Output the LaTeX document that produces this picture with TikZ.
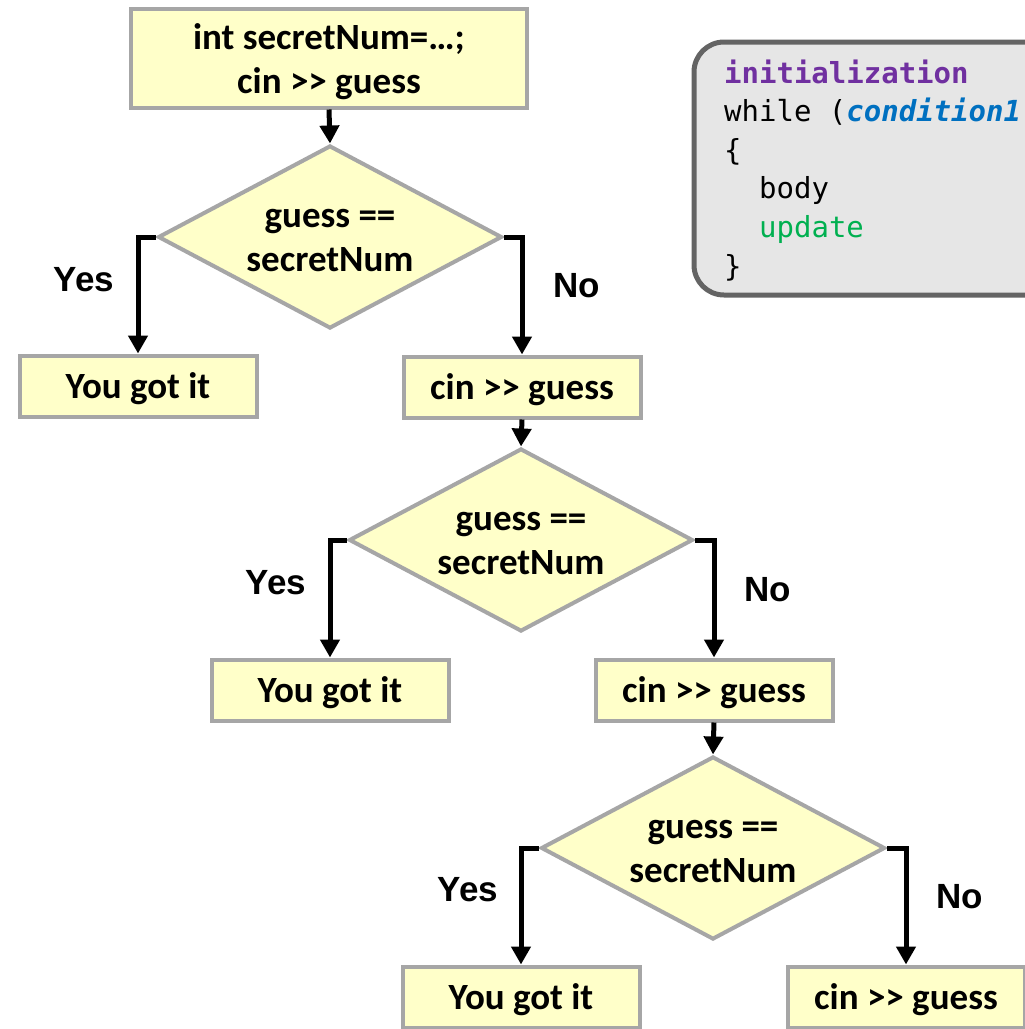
\documentclass[tikz,border=0pt]{standalone}
\usepackage{fontspec}
\setmainfont{Carlito}
\newfontfamily\codefont{DejaVu Sans Mono}
\newfontfamily\labelfont{Liberation Sans}
\usetikzlibrary{shapes.geometric,arrows.meta}

\definecolor{boxfill}{HTML}{FFFFC9}
\definecolor{boxline}{HTML}{A6A6A6}
\definecolor{codefill}{HTML}{E6E6E6}
\definecolor{codeframe}{HTML}{646464}
\definecolor{kwpurple}{HTML}{7030A0}
\definecolor{condblue}{HTML}{0070C0}
\definecolor{updgreen}{HTML}{00B050}

% ">>" without the TeX ligature turning it into a guillemet
\newcommand\readop{>{}>}
% sink node text a little without changing the box it occupies
\newcommand\sunk[2][4pt]{\raisebox{-#1}[\height][\depth]{#2}}
\newcommand\twolines[2]{\begin{tabular}{@{}c@{}}#1\\#2\end{tabular}}

\begin{document}
\begin{tikzpicture}[x=1pt,y=-1pt,
  stepbox/.style={draw=boxline,fill=boxfill,line width=4pt,minimum width=237pt,
    minimum height=61pt,inner sep=0pt,
    font=\fontsize{37}{44}\selectfont\bfseries},
  decision/.style={diamond,draw=boxline,fill=boxfill,line width=4pt,
    minimum width=344pt,minimum height=183pt,inner sep=0pt,aspect=1.87,
    font=\fontsize{37}{44}\selectfont\bfseries},
  flow/.style={line width=5pt,-{Triangle[width=19pt,length=18pt]}},
  answer/.style={inner sep=0pt,font=\fontsize{35}{40}\labelfont\bfseries},
  codetext/.style={anchor=base west,inner sep=0pt,font=\fontsize{29}{38}\codefont}]

\useasboundingbox (0,0) rectangle (1025,1029);
\clip (0,0) rectangle (1025,1029);

% code summary panel
\draw[draw=codeframe,fill=codefill,line width=5pt,rounded corners=30pt]
  (694,42) rectangle (1090,295);
\node[codetext] (c1) at (724,83)    {\textcolor{kwpurple}{\bfseries initialization}};
\node[codetext] (c2) at (724,121.6) {while (\textcolor{condblue}{\bfseries\itshape condition1}};
\node[codetext] (c3) at (724,160.2) {\{};
\node[codetext] (c4) at (759,198.8) {body};
\node[codetext] (c5) at (759,237.4) {\textcolor{updgreen}{update}};
\node[codetext] (c6) at (724,276)   {\}};

% flowchart nodes
\node[stepbox,minimum width=396pt,minimum height=99pt] (init) at (329,58)
  {\sunk[5pt]{\twolines{int secretNum=…;}{cin \readop{} guess}}};

\node[decision] (d1) at (330,237) {\sunk{\twolines{guess ==}{secretNum}}};
\node[stepbox] (y1) at (138,386) {\sunk[3pt]{You got it}};
\node[stepbox] (n1) at (522,387) {\sunk[3pt]{cin \readop{} guess}};

\node[decision] (d2) at (521,540) {\sunk{\twolines{guess ==}{secretNum}}};
\node[stepbox] (y2) at (330,690) {\sunk[3pt]{You got it}};
\node[stepbox] (n2) at (714,690) {\sunk[3pt]{cin \readop{} guess}};

\node[decision] (d3) at (713,848) {\sunk{\twolines{guess ==}{secretNum}}};
\node[stepbox] (y3) at (521,997) {\sunk[3pt]{You got it}};
\node[stepbox] (n3) at (906,997) {\sunk[3pt]{cin \readop{} guess}};

% branch labels
\node[answer] (l1y) at (84,280)  {Yes};
\node[answer] (l1n) at (577,286) {No};
\node[answer] (l2y) at (276,583) {Yes};
\node[answer] (l2n) at (768,590) {No};
\node[answer] (l3y) at (468,890) {Yes};
\node[answer] (l3n) at (960,897) {No};

% connectors
\draw[flow] (init.south) -- (d1.north);
\draw[flow] (d1.west) -| (y1.north);
\draw[flow] (d1.east) -| (n1.north);
\draw[flow] (n1.south) -- (d2.north);
\draw[flow] (d2.west) -| (y2.north);
\draw[flow] (d2.east) -| (n2.north);
\draw[flow] (n2.south) -- (d3.north);
\draw[flow] (d3.west) -| (y3.north);
\draw[flow] (d3.east) -| (n3.north);
\end{tikzpicture}
\end{document}
